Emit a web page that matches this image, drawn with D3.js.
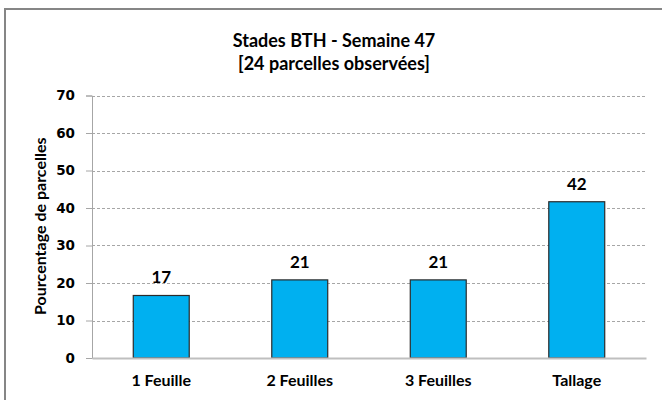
<!DOCTYPE html>
<html><head><meta charset="utf-8">
<script src="https://cdn.jsdelivr.net/npm/d3@7"></script>
<style>html,body{margin:0;padding:0;background:#fff;}svg{display:block;}</style>
</head><body>
<svg id="chart" width="662" height="400"></svg>
<script>
const categories = ["1 Feuille", "2 Feuilles", "3 Feuilles", "Tallage"];
const values = [16.67, 20.83, 20.83, 41.67];
const valueLabels = ["17", "21", "21", "42"];
const yTicks = [0, 10, 20, 30, 40, 50, 60, 70];
const titleLines = ["Stades BTH - Semaine 47", "[24 parcelles observées]"];
const yTitle = "Pourcentage de parcelles";

const svg = d3.select("#chart");
const font = "Lato, 'Open Sans', sans-serif";
const plot = {left: 92, right: 646, top: 95.5, bottom: 358};

// outer border (only top & left visible)
svg.append("rect").attr("x", 5).attr("y", 9).attr("width", 700).attr("height", 450)
  .attr("fill", "#fff").attr("stroke", "#868686").attr("stroke-width", 2);

const x = d3.scaleBand().domain(categories).range([plot.left, plot.right])
  .paddingInner(0.596).paddingOuter(0.298);
const y = d3.scaleLinear().domain([0, 70]).range([plot.bottom, plot.top]);

// gridlines
svg.append("g").selectAll("line").data(yTicks.filter(d => d > 0)).join("line")
  .attr("x1", plot.left).attr("x2", plot.right)
  .attr("y1", d => Math.round(y(d)) + 0.5).attr("y2", d => Math.round(y(d)) + 0.5)
  .attr("stroke", "#a6a6a6").attr("stroke-width", 1).attr("stroke-dasharray", "3,2");

// y axis
const yAxis = d3.axisLeft(y).tickValues(yTicks).tickSize(6).tickPadding(11);
const gy = svg.append("g").attr("transform", `translate(${plot.left},0)`).call(yAxis);
gy.select(".domain").attr("stroke", "#a6a6a6").attr("stroke-width", 1);
gy.selectAll(".tick line").attr("stroke", "#a6a6a6");
gy.selectAll(".tick text").attr("font-family", "'DejaVu Sans', Verdana, sans-serif")
  .attr("font-weight", "bold").attr("font-size", 13.5).attr("fill", "#000");

// bars
svg.append("g").selectAll("rect").data(values).join("rect")
  .attr("x", (d, i) => x(categories[i]))
  .attr("y", d => y(d))
  .attr("width", x.bandwidth())
  .attr("height", d => y(0) - y(d))
  .attr("fill", "#00b0f0").attr("stroke", "#2b2b2b").attr("stroke-width", 1.2);

// baseline
const gx = svg.append("g").attr("transform", `translate(0,${plot.bottom})`)
  .call(d3.axisBottom(x).tickSize(0).tickPadding(17));
gx.select(".domain").attr("stroke", "#bfbfbf").attr("stroke-width", 2);
gx.selectAll(".tick text").attr("font-family", font).attr("font-weight", "bold")
  .attr("font-size", 16).attr("fill", "#000");

// value labels
svg.append("g").selectAll("text").data(values).join("text")
  .attr("x", (d, i) => x(categories[i]) + x.bandwidth() / 2)
  .attr("y", d => y(d) - 12)
  .attr("text-anchor", "middle").attr("font-family", font).attr("font-weight", "bold")
  .attr("font-size", 17).attr("fill", "#000")
  .text((d, i) => valueLabels[i]);

// title
svg.append("g").selectAll("text").data(titleLines).join("text")
  .attr("x", 334).attr("y", (d, i) => 47 + i * 23)
  .attr("text-anchor", "middle").attr("font-family", font).attr("font-weight", "bold")
  .attr("font-size", 18).attr("fill", "#000").text(d => d);

// y title
svg.append("text").attr("transform", `translate(46,${(131.7 + 320.7) / 2}) rotate(-90)`)
  .attr("text-anchor", "middle").attr("font-family", font).attr("font-weight", "bold")
  .attr("font-size", 16).attr("fill", "#000").text(yTitle);
</script>
</body></html>
